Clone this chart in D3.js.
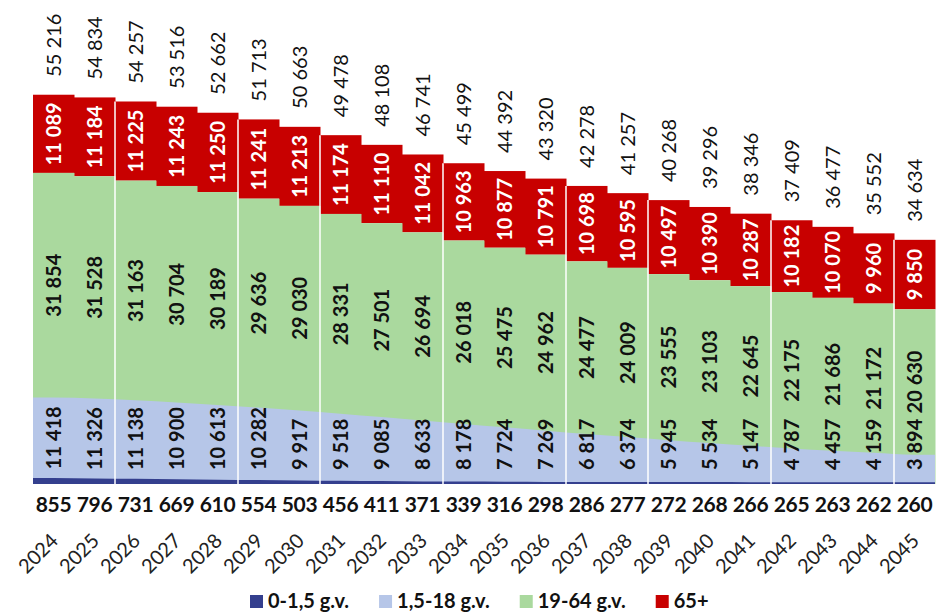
<!DOCTYPE html>
<html>
<head>
<meta charset="utf-8">
<script src="https://cdn.jsdelivr.net/npm/d3@7"></script>
<style>
  body { margin: 0; background: #fff; }
  svg { display: block; font-family: Lato, "Open Sans", sans-serif; }
</style>
</head>
<body>
<svg width="939" height="614"></svg>
<script>
// chart data
var years = [2024, 2025, 2026, 2027, 2028, 2029, 2030, 2031, 2032, 2033, 2034,
             2035, 2036, 2037, 2038, 2039, 2040, 2041, 2042, 2043, 2044, 2045];
var infants = [855, 796, 731, 669, 610, 554, 503, 456, 411, 371, 339,
               316, 298, 286, 277, 272, 268, 266, 265, 263, 262, 260];
var children = [11418, 11326, 11138, 10900, 10613, 10282, 9917, 9518, 9085, 8633, 8178,
                7724, 7269, 6817, 6374, 5945, 5534, 5147, 4787, 4457, 4159, 3894];
var adults = [31854, 31528, 31163, 30704, 30189, 29636, 29030, 28331, 27501, 26694, 26018,
              25475, 24962, 24477, 24009, 23555, 23103, 22645, 22175, 21686, 21172, 20630];
var seniors = [11089, 11184, 11225, 11243, 11250, 11241, 11213, 11174, 11110, 11042, 10963,
               10877, 10791, 10698, 10595, 10497, 10390, 10287, 10182, 10070, 9960, 9850];
var totals = [55216, 54834, 54257, 53516, 52662, 51713, 50663, 49478, 48108, 46741, 45499,
              44392, 43320, 42278, 41257, 40268, 39296, 38346, 37409, 36477, 35552, 34634];
var seriesNames = ["0-1,5 g.v.", "1,5-18 g.v.", "19-64 g.v.", "65+"];
// white separators drawn after these years
var splitAfter = [2025, 2028, 2030, 2033, 2036, 2038, 2041, 2044];

var colors = ["#343f8e", "#b6c6e8", "#aad99e", "#c80000"];

var svg = d3.select("svg");

var x = d3.scaleBand().domain(years).range([33, 935]).padding(0);
var y = d3.scaleLinear().domain([0, 60000]).range([484, 61]);

var fmt = d3.formatLocale({ decimal: ",", thousands: " ", grouping: [3], currency: ["", ""] }).format(",d");

// rows for the stack
var rows = years.map(function(yr, i) {
    return { year: yr, a: infants[i], b: children[i], c: adults[i], d: seniors[i], total: totals[i] };
});
var stack = d3.stack().keys(["a", "b", "c", "d"])(rows);

var plot = svg.append("g");

// 65+ and 19-64 as stepped columns
plot.selectAll("rect.senior")
    .data(stack[3]).enter()
    .append("rect")
    .attr("class", "senior")
    .attr("x", function(d) { return x(d.data.year); })
    .attr("width", x.bandwidth() + 0.5)
    .attr("y", function(d) { return y(d[1]); })
    .attr("height", function(d) { return y(d[0]) - y(d[1]); })
    .attr("fill", colors[3]);

plot.selectAll("rect.adult")
    .data(stack[2]).enter()
    .append("rect")
    .attr("class", "adult")
    .attr("x", function(d) { return x(d.data.year); })
    .attr("width", x.bandwidth() + 0.5)
    .attr("y", function(d) { return y(d[1]); })
    .attr("height", function(d) { return y(0) - y(d[1]); })
    .attr("fill", colors[2]);

// the two lower layers look smooth, so use areas through the column centres
function areaPoints(layer) {
    var pts = layer.map(function(d) { return { x: x(d.data.year) + x.bandwidth() / 2, y0: d[0], y1: d[1] }; });
    pts.unshift({ x: x.range()[0], y0: layer[0][0], y1: layer[0][1] });
    var last = layer[layer.length - 1];
    pts.push({ x: x.range()[1], y0: last[0], y1: last[1] });
    return pts;
}
var area = d3.area()
    .x(function(d) { return d.x; })
    .y0(function(d) { return y(0); })
    .y1(function(d) { return y(d.y1); })
    .curve(d3.curveMonotoneX);

plot.append("path").datum(areaPoints(stack[1])).attr("d", area).attr("fill", colors[1]);
plot.append("path").datum(areaPoints(stack[0])).attr("d", area).attr("fill", colors[0]);

// white separators
plot.selectAll("line.split")
    .data(splitAfter).enter()
    .append("line")
    .attr("class", "split")
    .attr("x1", function(d) { return x(d) + x.bandwidth(); })
    .attr("x2", function(d) { return x(d) + x.bandwidth(); })
    .attr("y1", y(0))
    .attr("y2", function(d) {
        var i = years.indexOf(d);
        return y(Math.min(totals[i], totals[i + 1]));
    })
    .attr("stroke", "#fff")
    .attr("stroke-width", 1.5);

// rotated labels inside the segments
function vlabel(g, cx, cy, txt, col, weight) {
    return g.append("text")
        .attr("transform", "translate(" + cx + "," + cy + ") rotate(-90)")
        .attr("text-anchor", "middle")
        .attr("dy", "0.36em")
        .attr("font-size", 20)
        .attr("font-weight", weight)
        .attr("fill", col)
        .text(txt);
}

var labels = svg.append("g");
rows.forEach(function(r, i) {
    var cx = x(r.year) + x.bandwidth() / 2;
    // 65+
    var s = stack[3][i];
    vlabel(labels, cx, (y(s[0]) + y(s[1])) / 2, fmt(r.d), "#fff", "bold");
    // 19-64
    var c = stack[2][i];
    vlabel(labels, cx, (y(c[0]) + y(c[1])) / 2, fmt(r.c), "#111", "bold");
    // 1,5-18, kept clear of the bottom
    var b = stack[1][i];
    var t = vlabel(labels, cx, 0, fmt(r.b), "#111", "bold");
    var len = t.node().getComputedTextLength();
    var cy = Math.min((y(b[0]) + y(b[1])) / 2, y(0) - 14 - len / 2);
    t.attr("transform", "translate(" + cx + "," + cy + ") rotate(-90)");
    // totals above the columns
    labels.append("text")
        .attr("transform", "translate(" + cx + "," + (y(r.total) - 18) + ") rotate(-90)")
        .attr("text-anchor", "start")
        .attr("dy", "0.36em")
        .attr("font-size", 20)
        .attr("fill", "#111")
        .text(fmt(r.total));
    // 0-1,5 under the columns
    labels.append("text")
        .attr("x", cx)
        .attr("y", 512)
        .attr("text-anchor", "middle")
        .attr("font-size", 21)
        .attr("font-weight", "bold")
        .attr("letter-spacing", -0.3)
        .attr("fill", "#111")
        .text(fmt(r.a));
});

// year axis, tilted
var xAxis = svg.append("g")
    .attr("transform", "translate(0," + 532 + ")")
    .call(d3.axisBottom(x).tickSize(0).tickFormat(d3.format("d")));
xAxis.select(".domain").remove();
xAxis.selectAll("text")
    .attr("font-family", "Lato, sans-serif")
    .attr("font-size", 20)
    .attr("fill", "#222")
    .attr("text-anchor", "end")
    .attr("dy", 0)
    .attr("y", 0)
    .attr("transform", "translate(6,10) rotate(-45)");

// legend
var legend = svg.append("g").attr("transform", "translate(250,601)");
var lx = 0;
seriesNames.forEach(function(name, i) {
    var item = legend.append("g").attr("transform", "translate(" + lx + ",0)");
    item.append("rect").attr("x", 0).attr("y", -6).attr("width", 13).attr("height", 13).attr("fill", colors[i]);
    var t = item.append("text")
        .attr("x", 18)
        .attr("dy", "0.36em")
        .attr("font-size", 20)
        .attr("font-weight", "bold")
        .attr("fill", "#111")
        .text(name);
    lx += 18 + t.node().getComputedTextLength() + 30;
});
</script>
</body>
</html>
